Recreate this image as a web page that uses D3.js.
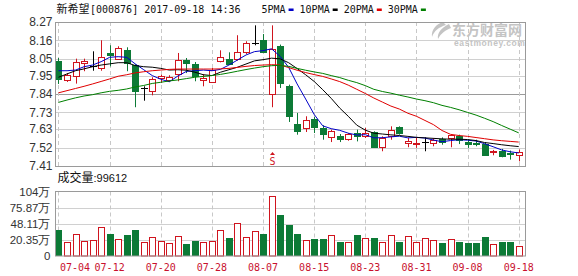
<!DOCTYPE html>
<html>
<head>
<meta charset="utf-8">
<script src="https://cdn.jsdelivr.net/npm/d3@7"></script>
<style>
  html, body { margin: 0; padding: 0; background: #fff; }
  svg { display: block; }
</style>
</head>
<body>
<div id="chart"></div>
<script>
// K-line data, 新希望 000876
const dates = ['07-04','07-05','07-06','07-07','07-10','07-11','07-12','07-13','07-14','07-17',
  '07-18','07-19','07-20','07-21','07-24','07-25','07-26','07-27','07-28','07-31',
  '08-01','08-02','08-03','08-04','08-07','08-08','08-09','08-10','08-11','08-14',
  '08-15','08-16','08-17','08-18','08-21','08-22','08-23','08-24','08-25','08-28',
  '08-29','08-30','08-31','09-01','09-04','09-05','09-06','09-07','09-08','09-11',
  '09-12','09-13','09-14','09-15','09-18'];

const opens = [8.035,7.925,7.946,8.023,8.005,7.991,8.085,8.051,8.105,8.015,
  7.876,7.860,7.936,7.922,7.959,8.041,8.019,7.925,7.916,8.035,
  8.051,8.045,8.089,8.145,8.164,7.840,8.125,7.890,7.661,7.641,
  7.691,7.637,7.581,7.591,7.573,7.607,7.587,7.613,7.522,7.593,
  7.641,7.547,7.537,7.553,7.551,7.573,7.573,7.589,7.551,7.549,
  7.541,7.498,7.502,7.488,7.472];
const highs = [8.055,7.965,8.051,8.051,8.095,8.161,8.131,8.125,8.119,8.018,
  7.886,7.940,7.955,7.952,8.085,8.055,8.031,7.959,7.995,8.101,
  8.089,8.191,8.155,8.250,8.198,8.250,8.135,7.896,7.727,7.707,
  7.703,7.653,7.627,7.601,7.607,7.627,7.637,7.617,7.587,7.647,
  7.647,7.577,7.581,7.581,7.577,7.581,7.597,7.597,7.567,7.567,
  7.553,7.506,7.512,7.502,7.508];
const lows = [7.900,7.912,7.902,7.976,7.979,7.979,8.005,8.045,7.976,7.761,
  7.800,7.832,7.906,7.912,7.916,7.965,7.916,7.886,7.912,8.029,
  8.015,8.039,8.079,8.131,8.085,7.761,7.876,7.673,7.597,7.613,
  7.607,7.567,7.553,7.553,7.561,7.557,7.577,7.518,7.498,7.567,
  7.597,7.522,7.518,7.498,7.528,7.537,7.522,7.541,7.518,7.528,
  7.474,7.474,7.462,7.448,7.438];
const closes = [7.925,7.955,8.029,8.035,8.005,8.059,8.075,8.115,8.025,7.860,
  7.876,7.930,7.946,7.942,8.045,8.021,7.946,7.936,7.985,8.061,
  8.019,8.089,8.145,8.145,8.095,8.111,7.906,7.711,7.621,7.687,
  7.641,7.601,7.617,7.571,7.601,7.587,7.607,7.522,7.577,7.627,
  7.607,7.557,7.545,7.553,7.567,7.557,7.593,7.567,7.537,7.541,
  7.478,7.502,7.474,7.482,7.492];

// moving averages as drawn
const ma5 = [7.979,7.979,7.983,8.003,8.013,8.033,8.059,8.063,8.059,8.020,
  7.985,7.950,7.928,7.913,7.947,7.975,7.979,7.983,7.979,7.987,
  8.013,8.043,8.073,8.093,8.099,8.110,8.065,8.000,7.900,7.810,
  7.718,7.650,7.633,7.623,7.606,7.595,7.597,7.578,7.579,7.584,
  7.588,7.578,7.581,7.577,7.565,7.555,7.562,7.567,7.564,7.559,
  7.543,7.525,7.506,7.495,7.488];
const ma10 = [7.940,7.960,7.979,7.990,8.003,8.013,8.020,8.027,8.027,8.010,
  8.003,8.000,7.993,7.983,7.985,7.982,7.970,7.955,7.950,7.970,
  7.985,8.000,8.019,8.038,8.045,8.054,8.050,8.027,7.992,7.955,
  7.915,7.866,7.814,7.756,7.707,7.654,7.624,7.606,7.601,7.596,
  7.592,7.587,7.581,7.578,7.575,7.572,7.570,7.570,7.568,7.562,
  7.550,7.544,7.537,7.531,7.526];
const ma20 = [7.847,7.860,7.873,7.886,7.900,7.915,7.930,7.946,7.955,7.966,
  7.973,7.979,7.983,7.987,7.989,7.989,7.989,7.989,7.989,7.990,
  7.993,7.999,8.005,8.010,8.013,8.015,8.013,7.998,7.982,7.968,
  7.956,7.945,7.930,7.914,7.893,7.868,7.843,7.816,7.792,7.768,
  7.750,7.725,7.707,7.682,7.657,7.622,7.599,7.592,7.587,7.580,
  7.573,7.566,7.561,7.557,7.553];
const ma30 = [7.790,7.804,7.817,7.828,7.836,7.847,7.856,7.862,7.870,7.882,
  7.891,7.903,7.910,7.918,7.924,7.932,7.940,7.945,7.950,7.957,
  7.966,7.976,7.986,7.995,8.003,8.009,8.011,8.005,7.993,7.982,
  7.972,7.963,7.950,7.938,7.922,7.908,7.890,7.868,7.855,7.845,
  7.833,7.822,7.810,7.800,7.788,7.772,7.760,7.746,7.730,7.714,
  7.695,7.675,7.652,7.630,7.608];

// volume, in 万手
const volumes = [37.7,16.6,29.8,18.3,20.0,42.4,30.3,21.8,28.6,37.7,
  16.6,25.2,18.3,14.9,26.9,13.2,18.3,16.6,18.3,37.2,
  24.0,49.2,25.2,35.5,30.3,95.6,63.5,46.3,30.3,20.0,
  22.3,22.3,28.1,17.1,16.6,28.6,23.5,23.5,16.6,28.1,
  17.1,26.9,17.1,23.5,20.0,15.5,21.8,17.1,15.5,15.5,
  25.2,13.2,17.1,17.1,9.8];

const priceTicks = [8.27, 8.16, 8.05, 7.95, 7.84, 7.73, 7.63, 7.52, 7.41];
const volTickValues = [-7.41, 20.35, 48.11, 75.87, 103.63];
const volTickLabels = ['0', '20.35万', '48.11万', '75.87万', '104万'];
const xTickDates = ['07-04','07-12','07-20','07-28','08-07','08-15','08-23','08-31','09-08','09-18'];

const maNames = ['5PMA', '10PMA', '20PMA', '30PMA'];
const maColors = ['#0000c8', '#000000', '#e00000', '#008000'];
const maSeries = [ma5, ma10, ma20, ma30];

const RED = '#d0141e';
const GREEN = '#0c7a36';
const MONO = '"DejaVu Sans Mono", "Liberation Mono", monospace';
const SANS = '"Liberation Sans", Arial, sans-serif';
const CJK = '"Noto Sans CJK SC", sans-serif';

const width = 578, height = 276;
const left = 55.5, right = 525.5;
const priceTop = 22, priceBottom = 166;
const volTop = 191.5, volBottom = 256;

const svg = d3.select('#chart').append('svg')
  .attr('width', width)
  .attr('height', height);

const x = d3.scalePoint().domain(dates).range([58.5, 518.7]);
const y = d3.scaleLinear().domain([7.41, 8.27]).range([priceBottom, priceTop]);
const yv = d3.scaleLinear().domain([-7.41, 103.63]).range([volBottom, volTop]);

const px = d => Math.round(x(d)) + 0.5;

// ---- price panel grid ----
const gridP = svg.append('g');
gridP.selectAll('line.h')
  .data(priceTicks)
  .enter().append('line')
  .attr('x1', left).attr('x2', right)
  .attr('y1', d => Math.round(y(d)) + 0.5)
  .attr('y2', d => Math.round(y(d)) + 0.5)
  .attr('stroke', (d, i) => i === 4 ? '#9a9a9a' : '#d0d0d0');
gridP.selectAll('line.v')
  .data(xTickDates)
  .enter().append('line')
  .attr('x1', px).attr('x2', px)
  .attr('y1', priceTop).attr('y2', priceBottom)
  .attr('stroke', '#c8c8c8')
  .attr('stroke-dasharray', '4,3');

// price axis labels
svg.append('g')
  .selectAll('text')
  .data(priceTicks)
  .enter().append('text')
  .attr('x', 52.5)
  .attr('y', d => y(d) + 4.3)
  .attr('text-anchor', 'end')
  .attr('font-family', SANS)
  .attr('font-size', 12)
  .attr('fill', '#333')
  .text(d => d.toFixed(2));

// ---- watermark ----
const wm = svg.append('g').attr('fill', '#c4c4c4');
wm.append('path')
  .attr('d', 'M443,22 C436,24 431,30 432,37 C434,31 439,27 446,25 Z M449,24 C441,28 437,33 438,39 C441,33 446,30 451,28 Z');
wm.append('text')
  .attr('x', 452).attr('y', 35)
  .attr('font-family', CJK)
  .attr('font-size', 14)
  .attr('font-weight', 'bold')
  .text('东方财富网');
wm.append('text')
  .attr('x', 454).attr('y', 46)
  .attr('font-family', SANS)
  .attr('font-size', 8.5)
  .attr('font-weight', 'bold')
  .attr('letter-spacing', 0.6)
  .text('eastmoney.com');

// ---- candles ----
const candles = svg.append('g')
  .selectAll('g')
  .data(dates)
  .enter().append('g');

const candleColor = (d, i) => closes[i] > opens[i] ? RED : (closes[i] < opens[i] ? GREEN : '#000');

candles.append('line')
  .attr('x1', px).attr('x2', px)
  .attr('y1', (d, i) => y(highs[i]))
  .attr('y2', (d, i) => y(lows[i]))
  .attr('stroke', candleColor);

candles.append('rect')
  .attr('x', d => Math.round(x(d)) - 2.5)
  .attr('width', 6)
  .attr('y', (d, i) => Math.round(y(Math.max(opens[i], closes[i]))) + 0.5)
  .attr('height', (d, i) => Math.max(0.01, Math.round(Math.abs(y(opens[i]) - y(closes[i])))))
  .attr('fill', (d, i) => closes[i] > opens[i] ? '#fff' : candleColor(d, i))
  .attr('stroke', candleColor);

// ---- moving averages ----
maSeries.forEach((s, k) => {
  const line = d3.line()
    .x((d, i) => x(dates[i]))
    .y(d => y(d));
  svg.append('path')
    .datum(s)
    .attr('d', line)
    .attr('fill', 'none')
    .attr('stroke', maColors[k])
    .attr('stroke-width', 1);
});

// price panel border
svg.append('rect')
  .attr('x', left).attr('y', priceTop + 0.5)
  .attr('width', right - left).attr('height', priceBottom - priceTop)
  .attr('fill', 'none')
  .attr('stroke', '#9a9a9a');

// "S" marker under the 08-08 candle
const sDate = '08-08';
svg.append('path')
  .attr('d', `M${px(sDate)},152 l-2.5,3 h5 z`)
  .attr('fill', RED);
svg.append('text')
  .attr('x', px(sDate)).attr('y', 165)
  .attr('text-anchor', 'middle')
  .attr('font-family', MONO)
  .attr('font-size', 10)
  .attr('fill', RED)
  .text('S');

// ---- title and legend ----
const title = svg.append('text')
  .attr('x', 56.5).attr('y', 13)
  .attr('font-family', MONO)
  .attr('font-size', 10)
  .attr('fill', '#111');
title.append('tspan').attr('font-family', CJK).attr('font-size', 11).text('新希望');
title.append('tspan').attr('x', 90).text('[000876] 2017-09-18 14:36');

let lx = 261.5;
maNames.forEach((name, k) => {
  svg.append('text')
    .attr('x', lx).attr('y', 13)
    .attr('font-family', MONO)
    .attr('font-size', 10)
    .attr('fill', '#111')
    .text(name);
  lx += name.length * 6.02 + 3;
  svg.append('rect')
    .attr('x', lx).attr('y', 8.5)
    .attr('width', 5).attr('height', 2.5)
    .attr('fill', maColors[k]);
  lx += 5 + 6;
});

// ---- volume panel ----
const vol = svg.append('text')
  .attr('x', 57.5).attr('y', 182)
  .attr('font-size', 12)
  .attr('fill', '#111');
vol.append('tspan').attr('font-family', CJK).text('成交量');
vol.append('tspan').attr('font-family', SANS).attr('font-size', 11).text(':99612');

const gridV = svg.append('g');
gridV.selectAll('line.h')
  .data(volTickValues.slice(1, 4))
  .enter().append('line')
  .attr('x1', left).attr('x2', right)
  .attr('y1', d => Math.round(yv(d)) + 0.5)
  .attr('y2', d => Math.round(yv(d)) + 0.5)
  .attr('stroke', '#d0d0d0');
gridV.selectAll('line.v')
  .data(xTickDates)
  .enter().append('line')
  .attr('x1', px).attr('x2', px)
  .attr('y1', volTop).attr('y2', volBottom)
  .attr('stroke', '#c8c8c8')
  .attr('stroke-dasharray', '4,3');

svg.append('g')
  .selectAll('text')
  .data(volTickValues)
  .enter().append('text')
  .attr('x', 50.5)
  .attr('y', d => yv(d) + 4.3)
  .attr('text-anchor', 'end')
  .attr('font-family', SANS)
  .attr('font-size', 11.5)
  .attr('fill', '#333')
  .text((d, i) => volTickLabels[i]);

const volUp = (d, i) => closes[i] >= opens[i];
svg.append('g')
  .selectAll('rect')
  .data(volumes)
  .enter().append('rect')
  .attr('x', (d, i) => volUp(d, i) ? Math.round(x(dates[i])) - 2.5 : Math.round(x(dates[i])) - 3)
  .attr('width', (d, i) => volUp(d, i) ? 6 : 7)
  .attr('y', (d, i) => Math.round(yv(d)) + (volUp(d, i) ? 0.5 : 0))
  .attr('height', (d, i) => Math.round(yv(-7.41)) - Math.round(yv(d)) - (volUp(d, i) ? 0.5 : 0))
  .attr('fill', (d, i) => volUp(d, i) ? '#fff' : GREEN)
  .attr('stroke', (d, i) => volUp(d, i) ? RED : 'none');

svg.append('rect')
  .attr('x', left).attr('y', volTop)
  .attr('width', right - left).attr('height', volBottom - volTop)
  .attr('fill', 'none')
  .attr('stroke', '#9a9a9a');

// date labels
svg.append('g')
  .selectAll('text')
  .data(xTickDates)
  .enter().append('text')
  .attr('x', (d, i) => i === 0 ? 60 : x(d))
  .attr('y', 271)
  .attr('text-anchor', (d, i) => i === 0 ? 'start' : 'middle')
  .attr('font-family', MONO)
  .attr('font-size', 10)
  .attr('fill', '#c8102e')
  .text(d => d);
</script>
</body>
</html>
